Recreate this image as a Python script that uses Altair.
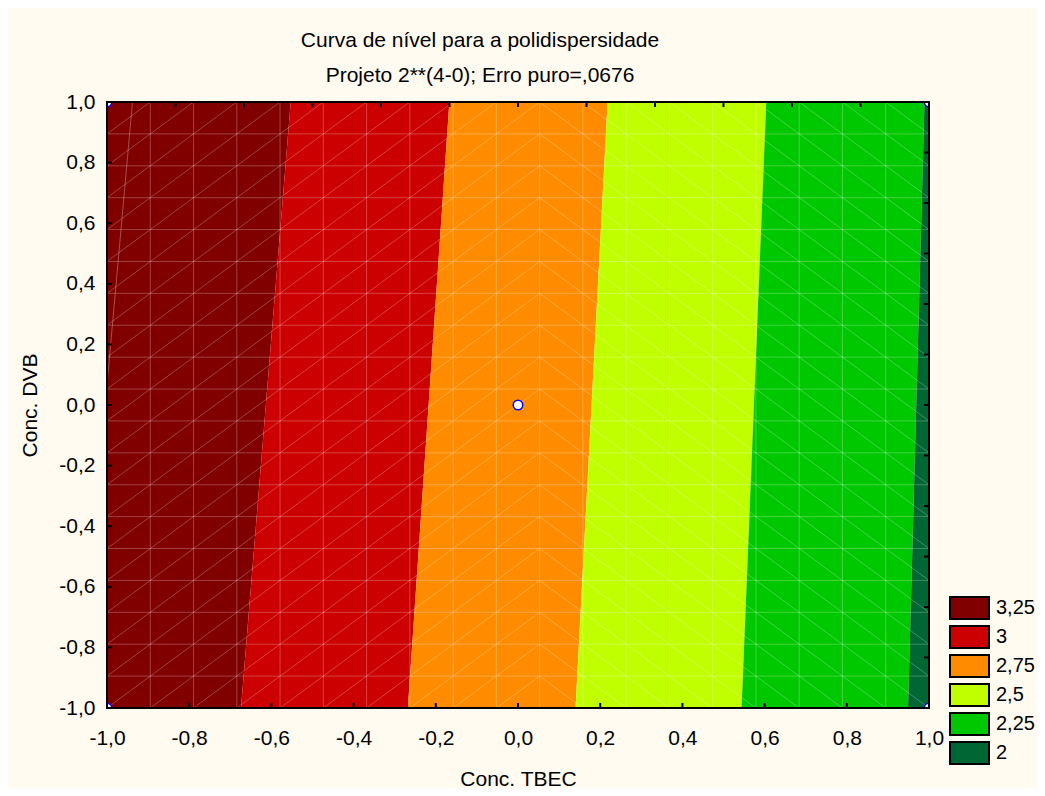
import altair as alt
import pandas as pd
import numpy as np

FONT = "Liberation Sans"

# ---- data ----
levels = ["3,25", "3", "2,75", "2,5", "2,25", "2"]
colors = ["#800000", "#CC0000", "#FF8C00", "#C0FF00", "#00C800", "#006633"]
# contour band edges (Conc. TBEC) at Conc. DVB = +1 (top) and -1 (bottom)
left_top = [-1.0, -0.553, -0.167, 0.218, 0.604, 0.989]
left_bottom = [-1.0, -0.674, -0.268, 0.140, 0.544, 0.949]
right_top = [-0.553, -0.167, 0.218, 0.604, 0.989, 1.0]
right_bottom = [-0.674, -0.268, 0.140, 0.544, 0.949, 1.0]

# design points
pts_x = [-1.0, 1.0, -1.0, 1.0, 0.0]
pts_y = [-1.0, -1.0, 1.0, 1.0, 0.0]

# faint contour edge inside the darkest band
edge_x = [-0.938, -1.0]
edge_y = [1.0, 0.066]

axis_values = [-1.0, -0.8, -0.6, -0.4, -0.2, 0.0, 0.2, 0.4, 0.6, 0.8, 1.0]
main_ticks = [-0.8, -0.6, -0.4, -0.2, 0.0, 0.2, 0.4, 0.6, 0.8]
sec_ticks = [-5/6, -4/6, -3/6, -2/6, -1/6, 0.0, 1/6, 2/6, 3/6, 4/6, 5/6]

title_text = "Curva de nível para a polidispersidade"
subtitle_text = "Projeto 2**(4-0); Erro puro=,0676"

# ---- tables ----
band_rows = []
for i, lv in enumerate(levels):
    band_rows.append({"level": lv, "y": 1.0, "x": left_top[i], "x2": right_top[i]})
    band_rows.append({"level": lv, "y": -1.0, "x": left_bottom[i], "x2": right_bottom[i]})
band_df = pd.DataFrame(band_rows)

g = np.linspace(-1, 1, 20)
mesh = []
for v in g[1:-1]:
    mesh.append({"x": v, "x2": v, "y": -1.0, "y2": 1.0})
    mesh.append({"x": -1.0, "x2": 1.0, "y": v, "y2": v})
for i in range(19):
    for j in range(19):
        if i <= 9:
            mesh.append({"x": g[i], "x2": g[i + 1], "y": g[j], "y2": g[j + 1]})
        else:
            mesh.append({"x": g[i], "x2": g[i + 1], "y": g[j + 1], "y2": g[j]})
mesh_df = pd.DataFrame(mesh)

vt = pd.DataFrame({"x": main_ticks + sec_ticks,
                   "y": [-1.0] * len(main_ticks) + [1.0] * len(sec_ticks)})
ht = pd.DataFrame({"y": main_ticks + sec_ticks,
                   "x": [-1.0] * len(main_ticks) + [1.0] * len(sec_ticks)})
pts_df = pd.DataFrame({"x": pts_x, "y": pts_y})
edge_df = pd.DataFrame({"x": edge_x, "y": edge_y, "o": [0, 1]})
frame_df = pd.DataFrame({"x": [-1.0], "x2": [1.0], "y": [-1.0], "y2": [1.0]})

xscale = alt.Scale(domain=[-1, 1], nice=False, zero=False)
yscale = alt.Scale(domain=[-1, 1], nice=False, zero=False)

label_expr = "replace(replace(format(datum.value, '.1f'), '.', ','), '\u2212', '-')"

xaxis = alt.Axis(values=axis_values, labelExpr=label_expr, labelFontSize=21, labelFont=FONT,
                 labelColor="black", ticks=False, tickSize=0, domain=False, grid=False,
                 labelPadding=19, labelFlush=False, labelOverlap=False,
                 title="Conc. TBEC", titleFontSize=21, titleFont=FONT, titleFontWeight="normal",
                 titleColor="black", titlePadding=20)
yaxis = alt.Axis(values=axis_values, labelExpr=label_expr, labelFontSize=21, labelFont=FONT,
                 labelColor="black", ticks=False, tickSize=0, domain=False, grid=False,
                 labelPadding=12, labelFlush=False, labelOverlap=False,
                 title="Conc. DVB", titleFontSize=21, titleFont=FONT, titleFontWeight="normal",
                 titleColor="black", titlePadding=18)

X = alt.X("x:Q", scale=xscale)
Y = alt.Y("y:Q", scale=yscale)

bands = alt.Chart(band_df).mark_area(orient="horizontal", opacity=1, clip=True).encode(
    y=alt.Y("y:Q", scale=yscale, axis=yaxis),
    x=alt.X("x:Q", scale=xscale, axis=xaxis),
    x2="x2:Q",
    color=alt.Color("level:N", scale=alt.Scale(domain=levels, range=colors),
                    legend=alt.Legend(orient="none", legendX=842, legendY=494, title=None,
                                      symbolType="M-1,-0.56H1V0.56H-1Z", symbolSize=1521,
                                      symbolStrokeColor="black", symbolStrokeWidth=2,
                                      symbolOpacity=1,
                                      labelFontSize=20, labelFont=FONT, labelColor="black",
                                      clipHeight=24, rowPadding=5, labelOffset=6,
                                      padding=0, symbolOffset=0)),
)

mesh_layer = alt.Chart(mesh_df).mark_rule(color="white", opacity=0.25, strokeWidth=1, clip=True).encode(
    x=X, x2="x2:Q", y=Y, y2="y2:Q")

edge_layer = alt.Chart(edge_df).mark_line(color="white", opacity=0.3, strokeWidth=1, clip=True).encode(
    x=X, y=Y, order="o:Q")

vticks = alt.Chart(vt).mark_tick(orient="vertical", size=10, thickness=2, color="black",
                                 opacity=1, clip=True).encode(x=X, y=Y)
hticks = alt.Chart(ht).mark_tick(orient="horizontal", size=10, thickness=2, color="black",
                                 opacity=1, clip=True).encode(x=X, y=Y)

points = alt.Chart(pts_df).mark_point(shape="circle", filled=True, fill="white", stroke="#0000FF",
                                      strokeWidth=1.5, size=90, opacity=1, clip=True).encode(x=X, y=Y)

frame = alt.Chart(frame_df).mark_rect(fill="transparent", stroke="black", strokeWidth=2).encode(
    x=X, x2="x2:Q", y=Y, y2="y2:Q")

t1 = alt.Chart(pd.DataFrame({"t": [title_text]})).mark_text(
    font=FONT, fontSize=21, color="black", align="center", baseline="alphabetic").encode(
    text="t:N", x=alt.value(373), y=alt.value(-55))
t2 = alt.Chart(pd.DataFrame({"t": [subtitle_text]})).mark_text(
    font=FONT, fontSize=21, color="black", align="center", baseline="alphabetic").encode(
    text="t:N", x=alt.value(373), y=alt.value(-20))

chart = alt.layer(bands, mesh_layer, edge_layer, vticks, hticks, points, frame, t1, t2).properties(
    width=822, height=606,
    autosize="none",
    padding={"left": 99, "top": 94, "right": 108, "bottom": 80},
    background="#FFFBF0",
).configure_view(stroke=None).configure(font=FONT)

chart.save("out.html", embed_options={"renderer": "svg", "actions": False})
